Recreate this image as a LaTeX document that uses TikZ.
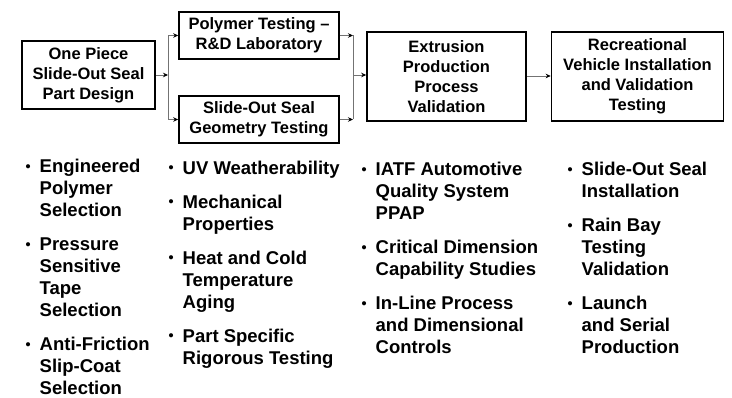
\documentclass[tikz,border=0pt]{standalone}
\usepackage{fontspec}
\usepackage{graphicx}
\setmainfont{Liberation Sans}
\usetikzlibrary{arrows.meta,positioning}

\newcommand{\blt}{\makebox[7pt][c]{\raisebox{1.6pt}{\scalebox{0.78}{\textbullet}}}}
\newcommand{\itemcol}[1]{\begin{tabular}[t]{@{}l@{\hspace{8pt}}l@{}}#1\end{tabular}}

\begin{document}
\begin{tikzpicture}[x=1pt, y=-1pt,
  stage/.style={rectangle, draw, line width=1.6pt, inner sep=0pt, align=center,
                font=\fontsize{16.5}{20}\selectfont\bfseries},
  list/.style={anchor=base west, inner sep=0pt,
               font=\fontsize{18.5}{22}\selectfont\bfseries},
  link/.style={line width=0.8pt, draw=black!55},
  arrow/.style={link, -{Stealth[length=5pt, width=4.5pt, color=black]}},
]
  \useasboundingbox (0,0) rectangle (732,398);

  % Nodes
  \node[stage, minimum width=133pt, minimum height=68pt] (design)   at (88.5,75)  {One Piece\\Slide-Out Seal\\Part Design};
  \node[stage, minimum width=160pt, minimum height=47pt] (polymer)  at (259,35.5) {Polymer Testing --\\R\&D Laboratory};
  \node[stage, minimum width=160pt, minimum height=47pt] (geometry) at (259,119.5) {Slide-Out Seal\\Geometry Testing};
  \node[stage, minimum width=159pt, minimum height=89pt] (extrude)  at (446.5,76.5) {Extrusion\\Production\\Process\\Validation};
  \node[stage, minimum width=172pt, minimum height=89pt] (rvtest)   at (637.5,76.5) {Recreational\\Vehicle Installation\\and Validation\\Testing};

  \coordinate (split) at (168,75);
  \coordinate (merge) at (353,75);

  % Branch and merge
  \draw[arrow] (design.east) -- (split);
  \draw[link]  (split |- polymer.west) -- (split |- geometry.west);
  \draw[arrow] (split |- polymer.west) -- (polymer.west);
  \draw[arrow] (split |- geometry.west) -- (geometry.west);
  \draw[arrow] (polymer.east) -- (merge |- polymer.east);
  \draw[arrow] (geometry.east) -- (merge |- geometry.east);
  \draw[link]  (merge |- polymer.east) -- (merge |- geometry.east);
  \draw[arrow] (merge) -- (extrude.west |- merge);
  \draw[arrow] (extrude.east |- 0,76) -- (rvtest.west |- 0,76);

  % Bullet lists
  \node[list] (ldesign) at (24.5,173) {\itemcol{%
    \blt & Engineered\\ & Polymer\\ & Selection\\[12pt]
    \blt & Pressure\\ & Sensitive\\ & Tape\\ & Selection\\[12pt]
    \blt & Anti-Friction\\ & Slip-Coat\\ & Selection}};
  \node[list] (ltest) at (167.5,174.5) {\itemcol{%
    \blt & UV Weatherability\\[12pt]
    \blt & Mechanical\\ & Properties\\[12pt]
    \blt & Heat and Cold\\ & Temperature\\ & Aging\\[12pt]
    \blt & Part Specific\\ & Rigorous Testing}};
  \node[list] (lextrude) at (360.5,176) {\itemcol{%
    \blt & IATF Automotive\\ & Quality System\\ & PPAP\\[12pt]
    \blt & Critical Dimension\\ & Capability Studies\\[12pt]
    \blt & In-Line Process\\ & and Dimensional\\ & Controls}};
  \node[list] (lrv) at (566.5,176) {\itemcol{%
    \blt & Slide-Out Seal\\ & Installation\\[12pt]
    \blt & Rain Bay\\ & Testing\\ & Validation\\[12pt]
    \blt & Launch\\ & and Serial\\ & Production}};
\end{tikzpicture}
\end{document}
